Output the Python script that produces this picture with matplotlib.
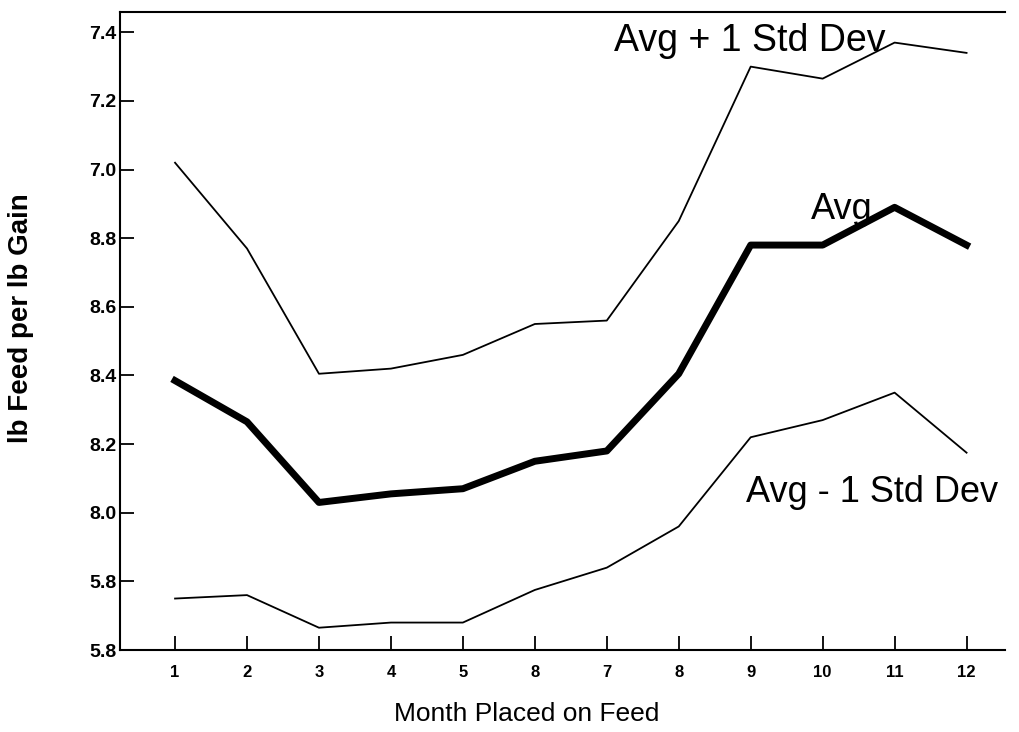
import matplotlib
matplotlib.use("Agg")
import matplotlib.pyplot as plt

months = [1, 2, 3, 4, 5, 6, 7, 8, 9, 10, 11, 12]
avg_plus = [7.02, 6.77, 6.405, 6.42, 6.46, 6.55, 6.56, 6.85, 7.30, 7.265, 7.37, 7.34]
avg = [6.385, 6.265, 6.03, 6.055, 6.07, 6.15, 6.18, 6.405, 6.78, 6.78, 6.89, 6.78]
avg_minus = [5.75, 5.76, 5.665, 5.68, 5.68, 5.775, 5.84, 5.96, 6.22, 6.27, 6.35, 6.175]

y_ticks = [5.6, 5.8, 6.0, 6.2, 6.4, 6.6, 6.8, 7.0, 7.2, 7.4]
# tick labels as printed on the scanned original
y_tick_labels = ["5.8", "5.8", "8.0", "8.2", "8.4", "8.6", "8.8", "7.0", "7.2", "7.4"]
x_tick_labels = ["1", "2", "3", "4", "5", "8", "7", "8", "9", "10", "11", "12"]

plt.rcParams["font.family"] = ["Liberation Sans", "DejaVu Sans"]

fig = plt.figure(figsize=(10.2, 7.32), dpi=100)
ax = fig.add_axes([0.118, 0.112, 0.867, 0.872])

ax.plot(months, avg_plus, color="black", linewidth=1.3)
ax.plot(months, avg, color="black", linewidth=5)
ax.plot(months, avg_minus, color="black", linewidth=1.3)

ax.set_xlim(0.24, 12.53)
ax.set_ylim(5.6, 7.46)

ax.set_xticks(months)
ax.set_xticklabels(x_tick_labels, fontsize=12, fontweight="bold")
ax.set_yticks(y_ticks)
ax.set_yticklabels(y_tick_labels, fontsize=14, fontweight="bold")
ax.tick_params(direction="in", length=10, width=1.3)
ax.tick_params(axis="y", pad=3)
ax.tick_params(axis="x", pad=11)

ax.spines["right"].set_visible(False)
for side in ["left", "bottom", "top"]:
    ax.spines[side].set_linewidth(1.5)

ax.set_xlabel("Month Placed on Feed", fontsize=19)
ax.xaxis.set_label_coords(0.46, -0.082)
ax.set_ylabel("lb Feed per lb Gain", fontsize=20, fontweight="bold")
ax.yaxis.set_label_coords(-0.098, 0.52)

ax.text(8.99, 7.375, "Avg + 1 Std Dev", fontsize=27, ha="center", va="center")
ax.text(10.27, 6.885, "Avg", fontsize=26, ha="center", va="center")
ax.text(10.69, 6.058, "Avg - 1 Std Dev", fontsize=26, ha="center", va="center")

fig.savefig("out.png", dpi=100)
